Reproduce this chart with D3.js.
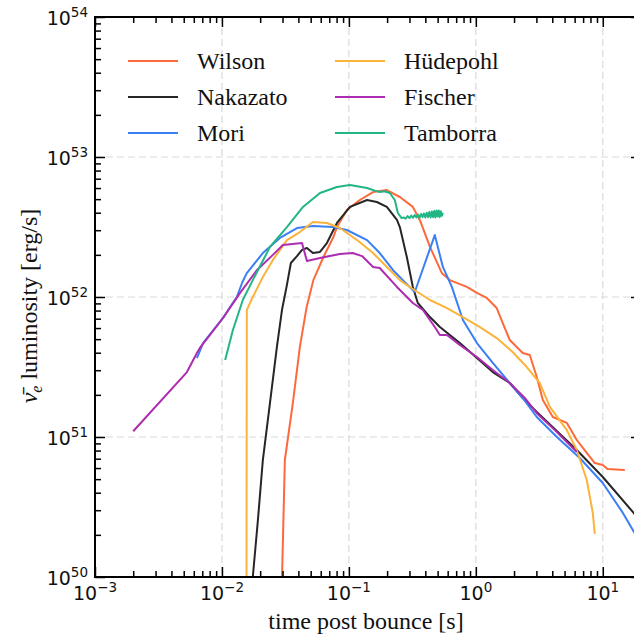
<!DOCTYPE html>
<html>
<head>
<meta charset="utf-8">
<script src="https://cdn.jsdelivr.net/npm/d3@7"></script>
<style>
  html, body { margin: 0; padding: 0; background: #fff; }
  svg { display: block; }
</style>
</head>
<body>
<svg id="chart" width="634" height="634"></svg>
<script>
// ---------------- data (time post bounce [s], luminosity [erg/s]) ----------------
const seriesNames = ["Wilson", "Nakazato", "Mori", "Hüdepohl", "Fischer", "Tamborra"];

const wilsonT = [0.0292, 0.0313, 0.0362, 0.0411, 0.0465, 0.0525, 0.063, 0.0755, 0.0805, 0.0964, 0.122, 0.155, 0.199, 0.252, 0.319, 0.362, 0.435, 0.540, 0.624, 0.849, 1.02, 1.22, 1.46, 1.63, 1.85, 2.34, 2.66, 3.02, 3.37, 4.04, 5.21, 6.24, 7.48, 8.65, 10.0, 10.9, 14.9];
const wilsonL = [5e49, 6.85e50, 1.75e51, 4.40e51, 8.49e51, 1.32e52, 1.93e52, 2.68e52, 3.16e52, 4.18e52, 4.93e52, 5.62e52, 5.81e52, 5.18e52, 4.40e52, 3.55e52, 2.28e52, 1.48e52, 1.32e52, 1.18e52, 1.07e52, 9.84e51, 8.34e51, 6.52e51, 4.93e51, 3.98e51, 3.85e51, 2.68e51, 1.84e51, 1.39e51, 1.26e51, 9.52e50, 7.69e50, 6.52e50, 6.31e50, 5.90e50, 5.81e50];

const nakazatoT = [0.0173, 0.0175, 0.0192, 0.0210, 0.0239, 0.0271, 0.0297, 0.0325, 0.0349, 0.039, 0.0427, 0.0467, 0.0521, 0.0592, 0.0671, 0.0805, 0.102, 0.139, 0.166, 0.199, 0.239, 0.252, 0.286, 0.319, 0.349, 0.435, 0.521, 0.748, 1.02, 1.36, 1.85, 2.34, 3.02, 6.24, 10.0, 17.5, 20];
const nakazatoL = [5e49, 1.0e50, 2.55e50, 6.85e50, 1.75e51, 4.40e51, 8.07e51, 1.22e52, 1.75e52, 1.96e52, 2.17e52, 2.24e52, 2.06e52, 2.10e52, 2.43e52, 3.38e52, 4.40e52, 4.93e52, 4.77e52, 4.40e52, 3.55e52, 3.16e52, 1.93e52, 1.18e52, 9.06e51, 7.19e51, 6.11e51, 4.69e51, 3.66e51, 2.91e51, 2.43e51, 1.90e51, 1.51e51, 8.07e50, 5.18e50, 2.87e50, 2.47e50];

const moriT = [0.00635, 0.0071, 0.0102, 0.0116, 0.0131, 0.0145, 0.0157, 0.0210, 0.0286, 0.039, 0.0521, 0.0748, 0.0964, 0.139, 0.175, 0.222, 0.266, 0.319, 0.331, 0.475, 0.55, 0.647, 0.791, 1.02, 1.36, 1.85, 2.34, 3.02, 4.35, 6.59, 10.0, 14.4, 20];
const moriL = [3.66e51, 4.69e51, 7.08e51, 8.49e51, 1.0e52, 1.28e52, 1.48e52, 2.06e52, 2.64e52, 3.11e52, 3.21e52, 3.16e52, 3.01e52, 2.55e52, 2.06e52, 1.56e52, 1.32e52, 1.12e52, 1.09e52, 2.77e52, 1.64e52, 1.18e52, 6.85e51, 4.69e51, 3.38e51, 2.43e51, 1.90e51, 1.39e51, 1.0e51, 7.08e50, 4.69e50, 2.87e50, 1.72e50];

const huedepohlT = [0.0156, 0.0157, 0.0175, 0.0210, 0.0252, 0.0325, 0.0411, 0.0521, 0.0671, 0.0849, 0.116, 0.155, 0.199, 0.252, 0.319, 0.435, 0.592, 0.791, 1.07, 1.46, 1.95, 2.52, 3.19, 3.83, 5.21, 6.24, 7.48, 8.34, 8.65];
const huedepohlL = [5e49, 8.07e51, 1.0e52, 1.39e52, 1.84e52, 2.55e52, 2.91e52, 3.43e52, 3.38e52, 3.11e52, 2.55e52, 2.06e52, 1.64e52, 1.32e52, 1.14e52, 9.52e51, 8.34e51, 7.19e51, 6.11e51, 5.09e51, 4.05e51, 3.16e51, 2.43e51, 1.64e51, 1.12e51, 8.07e50, 4.93e50, 2.87e50, 2.03e50];

const fischerT = [0.0020, 0.0053, 0.00635, 0.0067, 0.0102, 0.0139, 0.0189, 0.0252, 0.0302, 0.0427, 0.0467, 0.0592, 0.0849, 0.107, 0.127, 0.155, 0.175, 0.239, 0.319, 0.383, 0.475, 0.521, 0.592, 0.748, 1.02, 1.36, 1.85, 2.43, 3.02, 4.19, 6.24];
const fischerL = [1.10e51, 2.91e51, 3.98e51, 4.33e51, 7.08e51, 1.07e52, 1.56e52, 2.0e52, 2.35e52, 2.43e52, 1.81e52, 1.90e52, 2.03e52, 2.06e52, 1.96e52, 1.64e52, 1.61e52, 1.18e52, 9.06e51, 8.07e51, 6.11e51, 5.36e51, 5.36e51, 4.54e51, 3.73e51, 3.01e51, 2.43e51, 1.90e51, 1.48e51, 1.12e51, 7.81e50];

const tamborraT = [0.0106, 0.0122, 0.0146, 0.0175, 0.0239, 0.0325, 0.0435, 0.0592, 0.0805, 0.102, 0.139, 0.16, 0.175, 0.19, 0.210, 0.230, 0.243, 0.26, 0.27, 0.28, 0.29, 0.30, 0.31, 0.32, 0.33, 0.34, 0.35, 0.36, 0.37, 0.38, 0.39, 0.40, 0.41, 0.42, 0.43, 0.44, 0.45, 0.46, 0.47, 0.48, 0.49, 0.50, 0.51, 0.52, 0.53, 0.54, 0.55];
const tamborraL = [3.55e51, 5.81e51, 9.52e51, 1.32e52, 2.28e52, 3.16e52, 4.40e52, 5.53e52, 6.11e52, 6.31e52, 6.01e52, 5.75e52, 5.62e52, 5.70e52, 5.53e52, 4.93e52, 3.98e52, 3.66e52, 3.70e52, 3.62e52, 3.78e52, 3.66e52, 3.82e52, 3.68e52, 3.85e52, 3.70e52, 3.88e52, 3.68e52, 3.92e52, 3.72e52, 3.95e52, 3.70e52, 4.00e52, 3.72e52, 4.05e52, 3.70e52, 4.08e52, 3.72e52, 4.12e52, 3.70e52, 4.15e52, 3.75e52, 4.15e52, 3.72e52, 4.10e52, 3.80e52, 4.00e52];

const xMajorTicks = [1e-3, 1e-2, 1e-1, 1e0, 1e1];
const xMajorLabels = ["-3", "-2", "-1", "0", "1"];
const yMajorTicks = [1e50, 1e51, 1e52, 1e53, 1e54];
const yMajorLabels = ["50", "51", "52", "53", "54"];

const xLabel = "time post bounce [s]";
const yLabelText = " luminosity [erg/s]";

// ---------------- styles ----------------
const colors = ["#fc6a3b", "#262626", "#3b7ff5", "#fbb33a", "#ad2cb0", "#22b585"];
const serif = "'Liberation Serif', 'Times New Roman', serif";
const sans = "'DejaVu Sans', sans-serif";

const seriesT = [wilsonT, nakazatoT, moriT, huedepohlT, fischerT, tamborraT];
const seriesL = [wilsonL, nakazatoL, moriL, huedepohlL, fischerL, tamborraL];
const series = seriesNames.map((name, i) => ({
  name, color: colors[i],
  points: seriesT[i].map((t, j) => [t, seriesL[i][j]])
}));

const svg = d3.select("#chart");
const pLeft = 95, pRight = 641, pTop = 17, pBottom = 577;

const x = d3.scaleLog().domain([1e-3, 20]).range([pLeft, pRight]);
const y = d3.scaleLog().domain([1e50, 1e54]).range([pBottom, pTop]);

function minorTicks(lo, hi, scaleDomain) {
  const out = [];
  for (let k = lo; k <= hi; k++) {
    for (let m = 2; m <= 9; m++) {
      const v = m * Math.pow(10, k);
      if (v > scaleDomain[0] && v < scaleDomain[1]) out.push(v);
    }
  }
  return out;
}
const xMinor = minorTicks(-3, 1, x.domain());
const yMinor = minorTicks(50, 53, y.domain());

// clip
svg.append("defs").append("clipPath").attr("id", "plotclip")
  .append("rect").attr("x", pLeft).attr("y", pTop)
  .attr("width", pRight - pLeft).attr("height", pBottom - pTop);

// grid
const grid = svg.append("g").attr("stroke", "#d9d9d9").attr("stroke-width", 1.2)
  .attr("stroke-dasharray", "7,4").attr("fill", "none");
grid.selectAll("line.gx").data(xMajorTicks.filter(v => v > 1e-3)).join("line")
  .attr("class", "gx")
  .attr("x1", d => x(d)).attr("x2", d => x(d)).attr("y1", pTop).attr("y2", pBottom);
grid.selectAll("line.gy").data(yMajorTicks.filter(v => v > 1e50 && v < 1e54)).join("line")
  .attr("class", "gy")
  .attr("y1", d => y(d)).attr("y2", d => y(d)).attr("x1", pLeft).attr("x2", pRight);

// lines
const line = d3.line().x(d => x(d[0])).y(d => y(d[1]));
svg.append("g").attr("clip-path", "url(#plotclip)")
  .selectAll("path").data(series).join("path")
  .attr("d", d => line(d.points))
  .attr("fill", "none")
  .attr("stroke", d => d.color)
  .attr("stroke-width", 2)
  .attr("stroke-linejoin", "round")
  .attr("stroke-linecap", "butt");

// axes ticks (inward)
function addAxis(gen, transform, vals, size) {
  const g = svg.append("g").attr("transform", transform)
    .call(gen.tickValues(vals).tickSize(-size).tickSizeOuter(0).tickFormat(""));
  g.select(".domain").remove();
  g.selectAll(".tick line").attr("stroke", "#000").attr("stroke-width", 1.5);
  return g;
}
addAxis(d3.axisBottom(x), `translate(0,${pBottom})`, xMajorTicks, 10);
addAxis(d3.axisBottom(x), `translate(0,${pBottom})`, xMinor, 6);
addAxis(d3.axisTop(x), `translate(0,${pTop})`, xMajorTicks, 10);
addAxis(d3.axisTop(x), `translate(0,${pTop})`, xMinor, 6);
addAxis(d3.axisLeft(y), `translate(${pLeft},0)`, yMajorTicks, 10);
addAxis(d3.axisLeft(y), `translate(${pLeft},0)`, yMinor, 6);
addAxis(d3.axisRight(y), `translate(${pRight},0)`, yMajorTicks, 10);
addAxis(d3.axisRight(y), `translate(${pRight},0)`, yMinor, 6);

// frame
svg.append("rect").attr("x", pLeft).attr("y", pTop)
  .attr("width", pRight - pLeft).attr("height", pBottom - pTop)
  .attr("fill", "none").attr("stroke", "#000").attr("stroke-width", 2);

// x tick labels
const xl = svg.append("g").attr("font-family", sans).attr("fill", "#111");
xMajorTicks.forEach((v, i) => {
  const t = xl.append("text").attr("x", x(v)).attr("y", 600)
    .attr("text-anchor", "middle").attr("font-size", 19);
  t.append("tspan").text("10");
  t.append("tspan").attr("dy", -8).attr("font-size", 13.5)
    .text(xMajorLabels[i].replace("-", "\u2212"));
});
// y tick labels
const yl = svg.append("g").attr("font-family", sans).attr("fill", "#111");
yMajorTicks.forEach((v, i) => {
  const t = yl.append("text").attr("x", 88).attr("y", y(v) + 7.5)
    .attr("text-anchor", "end").attr("font-size", 19);
  t.append("tspan").text("10");
  t.append("tspan").attr("dy", -8).attr("font-size", 13.5).text(yMajorLabels[i]);
});

// axis titles
svg.append("text").attr("x", 366).attr("y", 629)
  .attr("text-anchor", "middle").attr("font-family", serif).attr("font-size", 24)
  .attr("fill", "#111").text(xLabel);

const yt = svg.append("text")
  .attr("transform", "translate(37,306) rotate(-90)")
  .attr("text-anchor", "middle").attr("font-family", serif).attr("font-size", 24)
  .attr("fill", "#111");
yt.append("tspan").attr("font-style", "italic").text("\u03BD\u0304");
yt.append("tspan").attr("font-style", "italic").attr("font-size", 16).attr("dy", 5).text("e");
yt.append("tspan").attr("dy", -5).text(yLabelText);

// legend
const legend = svg.append("g").attr("font-family", serif).attr("font-size", 24).attr("fill", "#111");
const legItems = legend.selectAll("g").data(series).join("g")
  .attr("transform", (d, i) => `translate(${i < 3 ? 128 : 335},${61 + (i % 3) * 36})`);
legItems.append("line").attr("x1", 0).attr("x2", 50).attr("y1", 0).attr("y2", 0)
  .attr("stroke", d => d.color).attr("stroke-width", 2);
legItems.append("text").attr("x", 69).attr("y", 7.5).text(d => d.name);
</script>
</body>
</html>
